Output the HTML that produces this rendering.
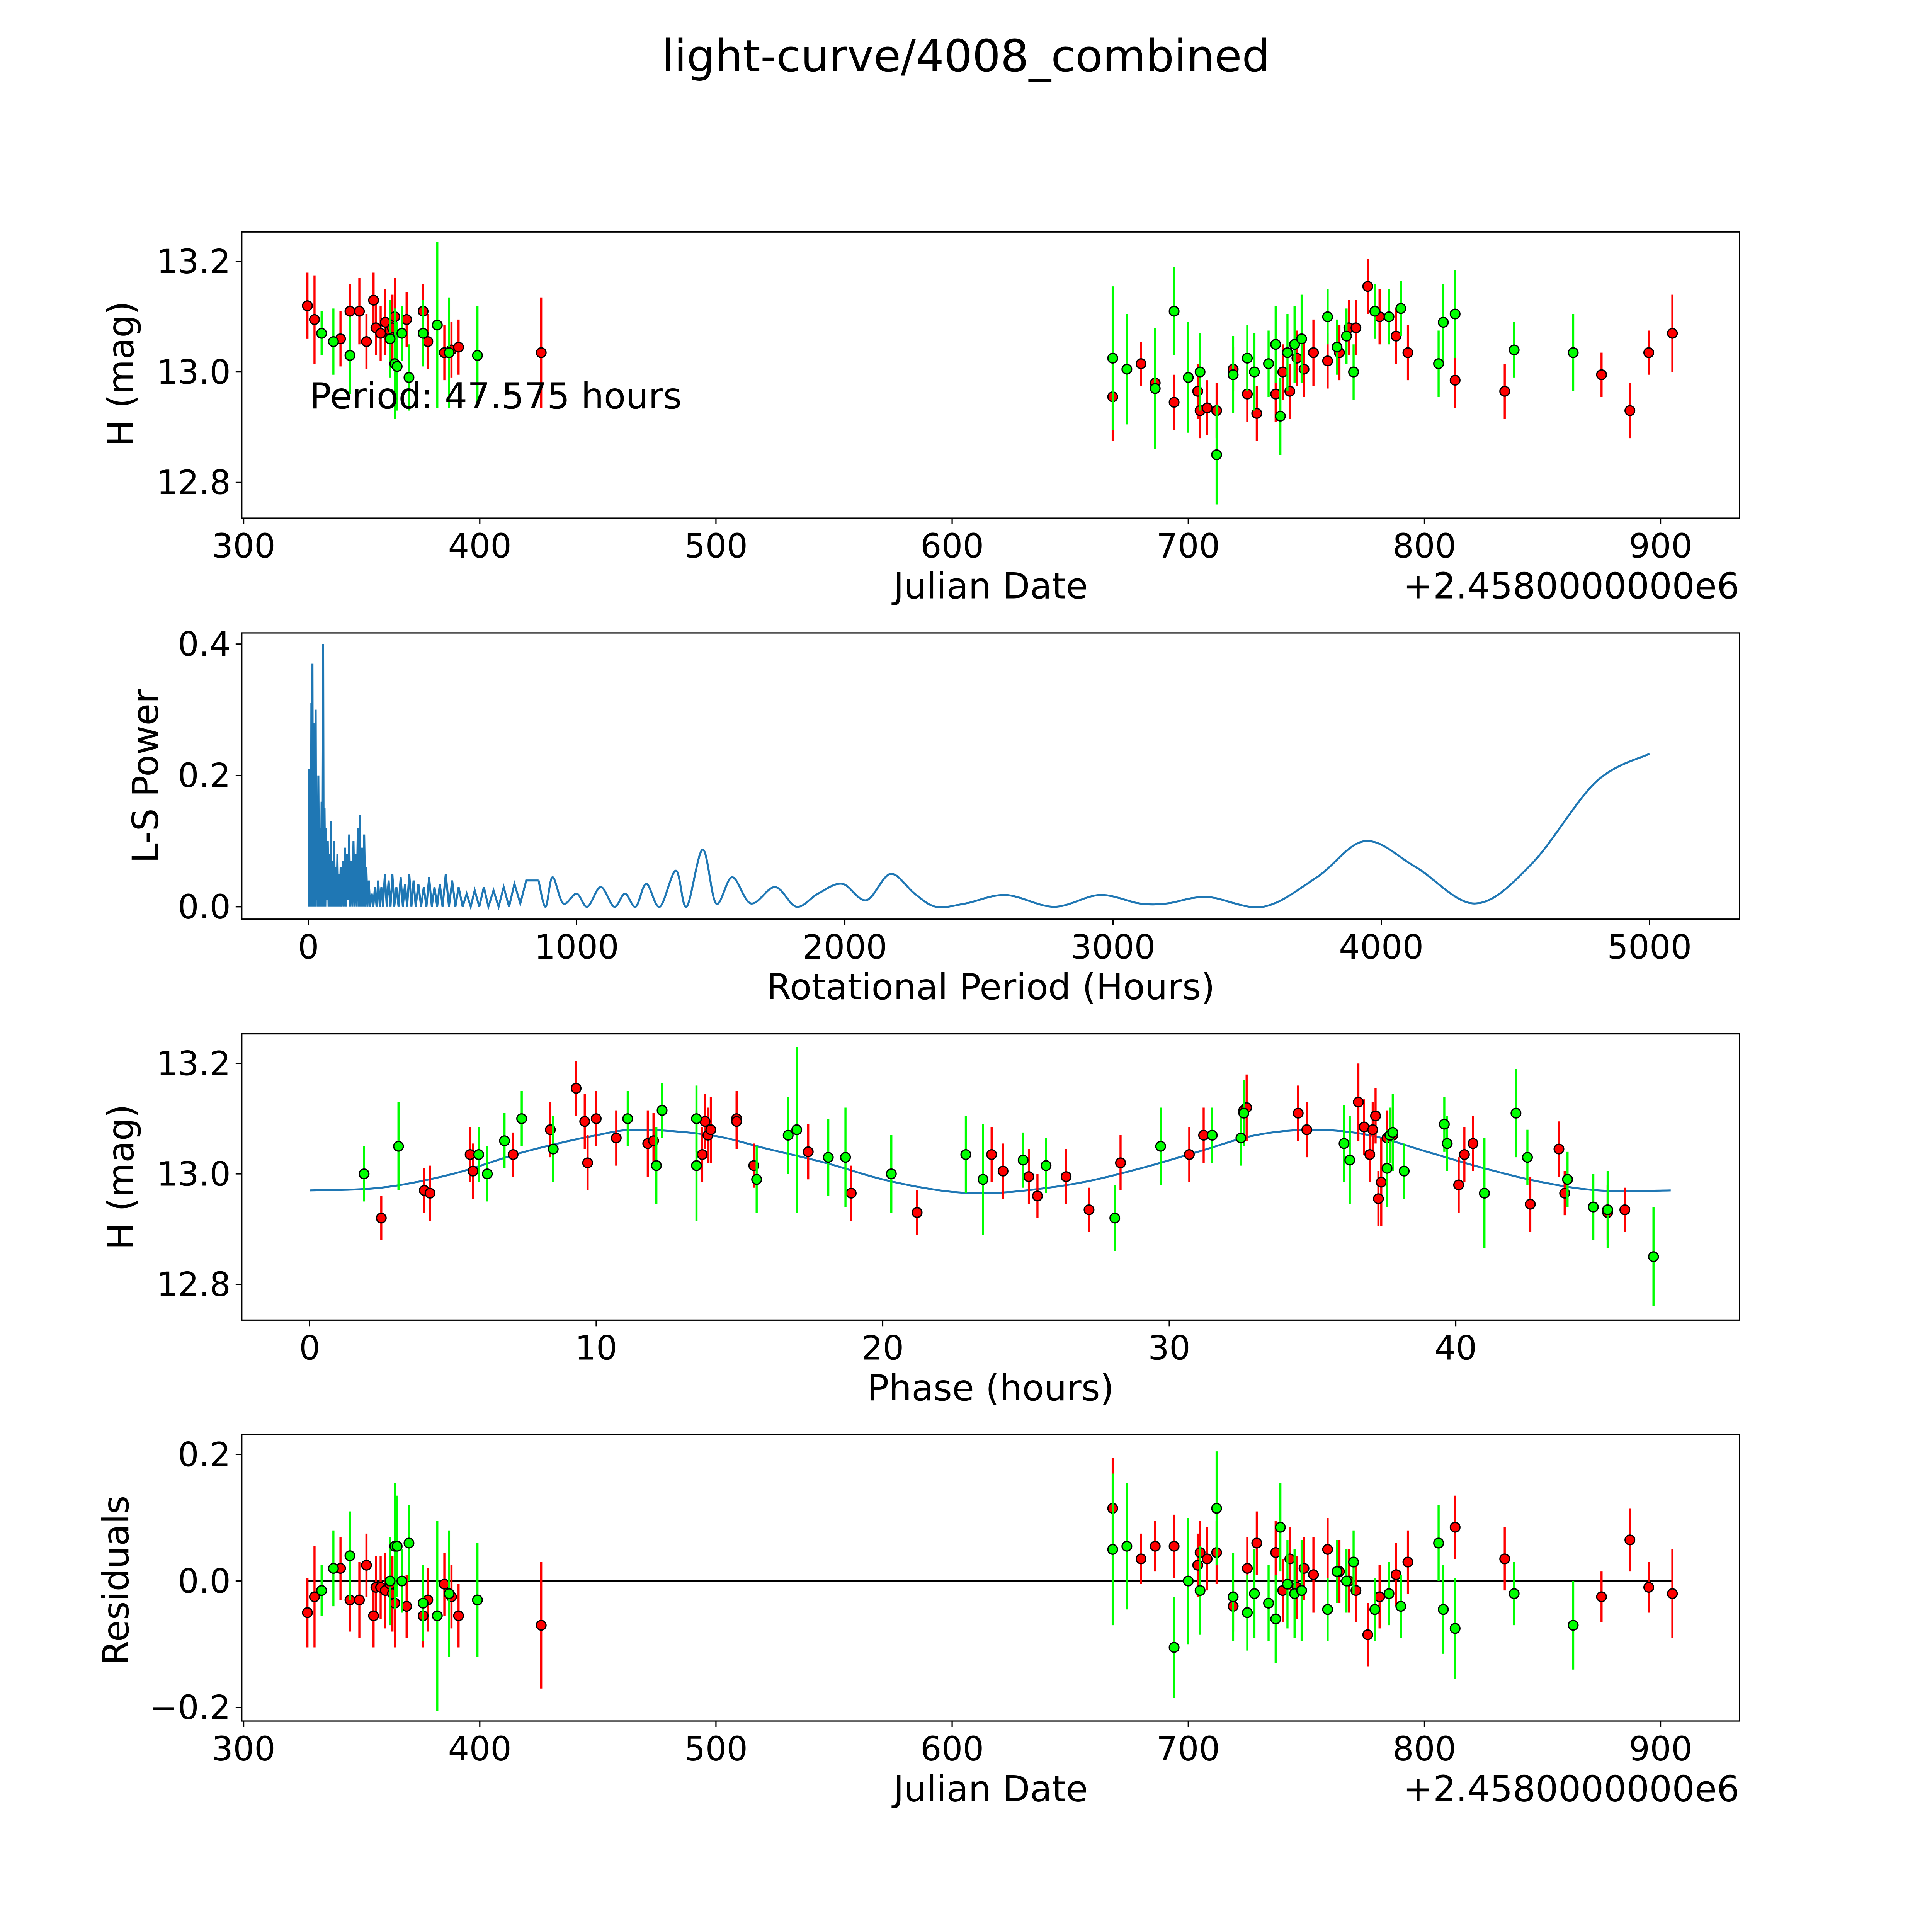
<!DOCTYPE html>
<html><head><meta charset="utf-8"><style>
html,body{margin:0;padding:0;background:#fff;overflow:hidden;width:100%;height:100%}
svg{display:block;width:100vw;height:100vh}
text{font-family:"DejaVu Sans","Liberation Sans",sans-serif;fill:#000}
</style></head><body>
<svg id="fig" viewBox="0 0 1566 1566" preserveAspectRatio="none" xmlns="http://www.w3.org/2000/svg">
<rect width="1566" height="1566" fill="#fff"/>
<text x="783" y="58" font-size="36" text-anchor="middle">light-curve/4008_combined</text>
<g id="layer"></g>
</svg>
<script>
// ---------- DATA ----------
const lcRed = [[327,13.12,.06],[330,13.095,.08],[341,13.06,.05],[345,13.11,.05],[349,13.11,.06],[352,13.055,.05],[355,13.13,.05],[356,13.08,.05],[358,13.07,.05],[360,13.09,.06],[362,13.075,.05],[363,13.08,.06],[364,13.1,.07],[369,13.095,.05],[376,13.11,.05],[378,13.055,.05],[385,13.035,.05],[388,13.04,.05],[391,13.045,.05],[426,13.035,.1],
[668,12.955,.08],[680,13.015,.04],[686,12.98,.04],[694,12.945,.05],[704,12.965,.05],[705,12.93,.05],[708,12.935,.05],[712,12.93,.05],[719,13.005,.04],[725,12.96,.05],[729,12.925,.05],[737,12.96,.05],[740,13.0,.05],[743,12.965,.05],[746,13.025,.05],[749,13.005,.05],[753,13.035,.06],[759,13.02,.05],[764,13.035,.05],[768,13.08,.05],[771,13.08,.05],[776,13.155,.05],[781,13.1,.05],[788,13.065,.05],[793,13.035,.05],[813,12.985,.05],[834,12.965,.05],[875,12.995,.04],[887,12.93,.05],[895,13.035,.04],[905,13.07,.07]];
const lcGreen = [[333,13.07,.04],[338,13.055,.06],[345,13.03,.07],[362,13.06,.07],[364,13.015,.1],[365,13.01,.08],[367,13.07,.05],[370,12.99,.06],[376,13.07,.06],[382,13.085,.15],[387,13.035,.1],[399,13.03,.09],
[668,13.025,.13],[674,13.005,.1],[686,12.97,.11],[694,13.11,.08],[700,12.99,.1],[705,13.0,.07],[712,12.85,.09],[719,12.995,.07],[725,13.025,.06],[728,13.0,.07],[734,13.015,.06],[737,13.05,.07],[739,12.92,.07],[742,13.035,.07],[745,13.05,.07],[748,13.06,.08],[759,13.1,.05],[763,13.045,.05],[767,13.065,.05],[770,13.0,.05],[779,13.11,.05],[785,13.1,.05],[790,13.115,.05],[806,13.015,.06],[808,13.09,.07],[813,13.105,.08],[838,13.04,.05],[863,13.035,.07]];
const phRed = [[2.5,12.92,.04],[4,12.97,.04],[4.2,12.965,.05],[5.6,13.035,.05],[5.7,13.005,.05],[7.1,13.035,.04],[8.4,13.08,.05],[9.3,13.155,.05],[9.6,13.095,.05],[9.7,13.02,.05],[10,13.1,.05],[10.7,13.065,.05],[11.8,13.055,.06],[12,13.06,.05],[13.7,13.035,.05],[13.8,13.095,.05],[13.9,13.07,.05],[14,13.08,.06],[14.9,13.1,.05],[14.9,13.095,.05],[15.5,13.015,.04],[17.4,13.04,.05],[18.9,12.965,.05],[21.2,12.93,.04],[23.8,13.035,.05],[24.2,13.005,.05],[25.1,12.995,.05],[25.4,12.96,.04],[26.4,12.995,.05],[27.2,12.935,.04],[28.3,13.02,.05],[30.7,13.035,.05],[31.2,13.07,.05],[32.6,13.115,.05],[32.7,13.12,.06],[34.5,13.11,.05],[34.8,13.08,.05],[36.6,13.13,.07],[36.8,13.085,.05],[37,13.035,.05],[37.1,13.08,.05],[37.2,13.105,.05],[37.3,12.955,.05],[37.4,12.985,.08],[37.6,13.065,.05],[37.8,13.07,.05],[40.1,12.98,.05],[40.3,13.035,.05],[40.6,13.055,.05],[42.6,12.945,.05],[43.6,13.045,.05],[43.8,12.965,.04],[45.3,12.93,.05],[45.9,12.935,.04]];
const phGreen = [[1.9,13.0,.05],[3.1,13.05,.08],[5.9,13.035,.05],[6.2,13.0,.05],[6.8,13.06,.05],[7.4,13.1,.05],[8.5,13.045,.06],[11.1,13.1,.05],[12.1,13.015,.07],[12.3,13.115,.05],[13.5,13.1,.06],[13.5,13.015,.1],[15.6,12.99,.06],[16.7,13.07,.07],[17,13.08,.15],[18.1,13.03,.07],[18.7,13.03,.09],[20.3,13.0,.07],[22.9,13.035,.07],[23.5,12.99,.1],[24.9,13.025,.05],[25.7,13.015,.05],[28.1,12.92,.06],[29.7,13.05,.07],[31.5,13.07,.05],[32.5,13.065,.05],[32.6,13.11,.06],[36.1,13.055,.07],[36.3,13.025,.08],[37.6,13.01,.07],[37.7,13.07,.05],[37.8,13.075,.07],[38.2,13.005,.05],[39.6,13.09,.05],[39.7,13.055,.05],[41,12.965,.1],[42.1,13.11,.08],[42.5,13.03,.05],[43.9,12.99,.05],[44.8,12.94,.06],[45.3,12.935,.07],[46.9,12.85,.09]];
const modelPhase = [0,2.5,5,7.5,10,11.5,14,16,18,20,22,23.5,25,27,29,31,33,35,37,39,41,43,45,47.5];
const modelMag = [12.97,12.975,13.0,13.04,13.07,13.08,13.07,13.045,13.02,12.99,12.97,12.965,12.97,12.985,13.01,13.04,13.07,13.08,13.07,13.04,13.01,12.985,12.97,12.97];
const resRed = [[327,-0.05,.055],[330,-0.025,.08],[341,0.02,.05],[345,-0.03,.05],[349,-0.03,.06],[352,0.025,.05],[355,-0.055,.05],[356,-0.01,.05],[358,-0.01,.05],[360,-0.015,.06],[362,-0.005,.05],[363,-0.02,.06],[364,-0.035,.07],[369,-0.04,.05],[376,-0.055,.05],[378,-0.03,.05],[385,-0.005,.05],[388,-0.025,.05],[391,-0.055,.05],[426,-0.07,.1],
[668,0.115,.08],[680,0.035,.04],[686,0.055,.04],[694,0.055,.05],[704,0.025,.05],[705,0.045,.05],[708,0.035,.05],[712,0.045,.05],[719,-0.04,.04],[725,0.02,.05],[729,0.06,.05],[737,0.045,.05],[740,-0.015,.05],[743,0.035,.05],[746,-0.01,.05],[749,0.02,.05],[753,0.01,.06],[759,0.05,.05],[764,0.015,.05],[768,0.0,.05],[771,-0.015,.05],[776,-0.085,.05],[781,-0.025,.05],[788,0.01,.05],[793,0.03,.05],[813,0.085,.05],[834,0.035,.05],[875,-0.025,.04],[887,0.065,.05],[895,-0.01,.04],[905,-0.02,.07]];
const resGreen = [[333,-0.015,.04],[338,0.02,.06],[345,0.04,.07],[362,0.0,.07],[364,0.055,.1],[365,0.055,.08],[367,0.0,.05],[370,0.06,.06],[376,-0.035,.06],[382,-0.055,.15],[387,-0.02,.1],[399,-0.03,.09],
[668,0.05,.12],[674,0.055,.1],[694,-0.105,.08],[700,0.0,.1],[705,-0.015,.07],[712,0.115,.09],[719,-0.025,.07],[725,-0.05,.06],[728,-0.02,.07],[734,-0.035,.06],[737,-0.06,.07],[739,0.085,.07],[742,-0.005,.07],[745,-0.02,.07],[748,-0.015,.08],[759,-0.045,.05],[763,0.015,.05],[767,0.0,.05],[770,0.03,.05],[779,-0.045,.05],[785,-0.02,.05],[790,-0.04,.05],[806,0.06,.06],[808,-0.045,.07],[813,-0.075,.08],[838,-0.02,.05],[863,-0.07,.07]];
const lsPeriodSpiky = [1,3,5,7,9,11,13,15,17,19,21,23,25,27,29,31,34,37,40,43,46,49,52,55,57,60,63,66,69,72,75,78,81,84,87,90,93,96,99,102,105,108,111,114,117,120,124,128,132,136,140,144,148,152,156,160,164,168,172,176,180,184,188,192,196,200,204,208,212,216,220,225,230,236,242,248,254,260,266,272,278,285,292,299,306,313,320,328,336,344,352,360,368,376,384,392,400,410,420,430,440,450,460,470,480,490,500,512,524,536,548,560,575,590,605,620,637,654,671,690,709,728,748,768,790,812,835,858];
const lsPowerSpiky = [0.0,0.21,0.02,0.2,0.0,0.31,0.01,0.37,0.0,0.28,0.02,0.24,0.0,0.3,0.01,0.15,0.0,0.2,0.0,0.12,0.0,0.16,0.0,0.40,0.0,0.15,0.0,0.12,0.01,0.1,0.0,0.08,0.0,0.13,0.0,0.07,0.0,0.1,0.0,0.06,0.0,0.08,0.0,0.05,0.0,0.06,0.0,0.07,0.0,0.09,0.0,0.08,0.01,0.11,0.0,0.07,0.0,0.1,0.0,0.08,0.0,0.12,0.0,0.14,0.0,0.09,0.0,0.11,0.0,0.06,0.0,0.04,0.0,0.02,0.0,0.03,0.0,0.04,0.0,0.03,0.0,0.05,0.0,0.04,0.0,0.05,0.0,0.03,0.0,0.045,0.0,0.035,0.0,0.05,0.0,0.04,0.0,0.035,0.0,0.03,0.0,0.045,0.0,0.03,0.0,0.035,0.0,0.05,0.0,0.04,0.0,0.03,0.0,0.02,0.0,0.025,0.0,0.03,0.0,0.025,0.0,0.03,0.0,0.035,0.005,0.04];
const lsPeriodSmooth = [858,884,910,950,1000,1040,1090,1140,1180,1220,1260,1310,1370,1410,1470,1520,1580,1650,1740,1820,1900,1990,2080,2170,2260,2340,2450,2600,2780,2950,3100,3200,3350,3560,3760,3940,4130,4350,4560,4800,5000];
const lsPowerSmooth = [0.04,0.0,0.045,0.005,0.02,0.0,0.03,0.0,0.02,0.0,0.035,0.0,0.055,0.0,0.087,0.005,0.045,0.005,0.03,0.0,0.02,0.035,0.01,0.05,0.02,0.0,0.005,0.018,0.0,0.018,0.005,0.005,0.015,0.0,0.045,0.1,0.06,0.005,0.065,0.19,0.233];
const jdTicks = [300,400,500,600,700,800,900];
const magTicks = ["12.8","13.0","13.2"];
const powTicks = ["0.0","0.2","0.4"];
const perTicks = [0,1000,2000,3000,4000,5000];
const phTicks = [0,10,20,30,40];
const resTicks = ["\u22120.2","0.0","0.2"];
const resTickVals = [-0.2,0,0.2];

// ---------- AXES ----------
const NS='http://www.w3.org/2000/svg';
const layer=document.getElementById('layer');
function mk(tag,attrs,parent){const e=document.createElementNS(NS,tag);for(const k in attrs)e.setAttribute(k,attrs[k]);(parent||layer).appendChild(e);return e;}
function lin(d0,d1,p0,p1){return v=>p0+(v-d0)/(d1-d0)*(p1-p0);}
const L=196,R=1410;
const P1={top:188,bot:420,x:lin(300,900,197.5,1346),y:lin(12.8,13.2,391,212)};
const P2={top:513,bot:745,x:lin(0,5000,250,1337),y:lin(0,0.4,735,522)};
const P3={top:838,bot:1070,x:lin(0,40,251,1180),y:lin(12.8,13.2,1041,862)};
const P4={top:1163,bot:1395,x:lin(300,900,197.5,1346),y:lin(-0.2,0.2,1384,1179)};
const TF=27, LF=29;

function frame(p,name){
  const r=mk('rect',{x:L,y:p.top,width:R-L,height:p.bot-p.top,fill:'none',stroke:'#000','stroke-width':1});
  
  
}
function xticks(p,vals,labels,name){
  vals.forEach((v,i)=>{const x=p.x(v);
    const t=mk('line',{x1:x,x2:x,y1:p.bot,y2:p.bot+5,stroke:'#000'});
    
    
    const s=mk('text',{x:x,y:p.bot+32,'font-size':TF,'text-anchor':'middle'});s.textContent=labels[i];
    
    
  });
}
function yticks(p,vals,labels,name){
  vals.forEach((v,i)=>{const y=p.y(v);
    const t=mk('line',{x1:L-5,x2:L,y1:y,y2:y,stroke:'#000'});
    
    
    const s=mk('text',{x:L-9,y:y+9.5,'font-size':TF,'text-anchor':'end'});s.textContent=labels[i];
    
    
  });
}
function label(x,y,txt,rot,name){
  const s=mk('text',{x:x,y:y,'font-size':LF,'text-anchor':'middle',transform:rot?`rotate(-90 ${x} ${y})`:''});s.textContent=txt;
  
  
}
function points(p,data,col,name){
  data.forEach(d=>{const x=p.x(d[0]);
    const e=mk('line',{x1:x,x2:x,y1:p.y(d[1]-d[2]),y2:p.y(d[1]+d[2]),stroke:col,'stroke-width':1.7});
    
    
  });
  data.forEach(d=>{
    const c=mk('circle',{cx:p.x(d[0]),cy:p.y(d[1]),r:3.9,fill:col,stroke:'#000','stroke-width':1});
    
    
  });
}
function smoothPath(xs,ys){
  let d=`M${xs[0]},${ys[0]}`;
  for(let i=0;i<xs.length-1;i++){
    const x0=xs[i-1]??xs[i],y0=ys[i-1]??ys[i],x3=xs[i+2]??xs[i+1],y3=ys[i+2]??ys[i+1];
    d+=` C${xs[i]+(xs[i+1]-x0)/6},${ys[i]+(ys[i+1]-y0)/6} ${xs[i+1]-(x3-xs[i])/6},${ys[i+1]-(y3-ys[i])/6} ${xs[i+1]},${ys[i+1]}`;
  }
  return d;
}

// Panel 1
frame(P1,'light-curve');
xticks(P1,jdTicks,jdTicks.map(String),'light-curve');
yticks(P1,[12.8,13.0,13.2],magTicks,'light-curve');
points(P1,lcRed,'#ff0000','light-curve-red');
points(P1,lcGreen,'#00ff00','light-curve-green');
label(803,485,'Julian Date',false,'light-curve-x-axis-title');
label(108,303,'H (mag)',true,'light-curve-y-axis-title');
{const s=mk('text',{x:1410,y:485,'font-size':LF,'text-anchor':'end'});s.textContent='+2.4580000000e6';

}
{const s=mk('text',{x:251,y:331,'font-size':LF});s.textContent='Period: 47.575 hours';

}

// Panel 2
frame(P2,'periodogram');
xticks(P2,perTicks,perTicks.map(String),'periodogram');
yticks(P2,[0,0.2,0.4],powTicks,'periodogram');
{const arr=lsPeriodSpiky.map((v,i)=>[v,lsPowerSpiky[i]]).filter(q=>q[1]!==undefined);
arr.push([lsPeriodSmooth[0],lsPowerSmooth[0]]);
const pts=arr.map(q=>P2.x(q[0])+','+P2.y(q[1])).join(' ');
const pl=mk('polyline',{points:pts,fill:'none',stroke:'#1f77b4','stroke-width':1.6});


const pa=mk('path',{d:smoothPath(lsPeriodSmooth.map(P2.x),lsPowerSmooth.map(P2.y)),fill:'none',stroke:'#1f77b4','stroke-width':1.6});

}
label(803,810,'Rotational Period (Hours)',false,'periodogram-x-axis-title');
label(128,629,'L-S Power',true,'periodogram-y-axis-title');

// Panel 3
frame(P3,'phase-plot');
xticks(P3,phTicks,phTicks.map(String),'phase-plot');
yticks(P3,[12.8,13.0,13.2],magTicks,'phase-plot');
{const pa=mk('path',{d:smoothPath(modelPhase.map(P3.x),modelMag.map(P3.y)),fill:'none',stroke:'#1f77b4','stroke-width':1.6});

}
points(P3,phRed,'#ff0000','phase-red');
points(P3,phGreen,'#00ff00','phase-green');
label(803,1135,'Phase (hours)',false,'phase-x-axis-title');
label(108,954,'H (mag)',true,'phase-y-axis-title');

// Panel 4
frame(P4,'residuals');
xticks(P4,jdTicks,jdTicks.map(String),'residuals');
yticks(P4,resTickVals,resTicks,'residuals');
{const z=mk('line',{x1:P4.x(327),x2:P4.x(905),y1:P4.y(0),y2:P4.y(0),stroke:'#000','stroke-width':1.3});

}
points(P4,resRed,'#ff0000','residuals-red');
points(P4,resGreen,'#00ff00','residuals-green');
label(803,1460,'Julian Date',false,'residuals-x-axis-title');
label(104,1281,'Residuals',true,'residuals-y-axis-title');
{const s=mk('text',{x:1410,y:1460,'font-size':LF,'text-anchor':'end'});s.textContent='+2.4580000000e6';

}
</script>
</body></html>
